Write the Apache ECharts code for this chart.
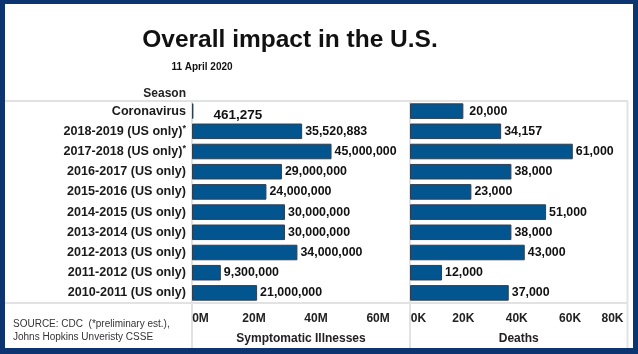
<!DOCTYPE html>
<html>
<head>
<meta charset="utf-8">
<script src="https://cdn.jsdelivr.net/npm/echarts@6/dist/echarts.min.js"></script>
<style>
  html, body { margin: 0; padding: 0; background: #fff; }
  #chart { width: 638px; height: 354px; }
</style>
</head>
<body>
<div id="chart"></div>
<script>
// data
const seasons = ['Coronavirus', '2018-2019 (US only)*', '2017-2018 (US only)*', '2016-2017 (US only)',
  '2015-2016 (US only)', '2014-2015 (US only)', '2013-2014 (US only)', '2012-2013 (US only)',
  '2011-2012 (US only)', '2010-2011 (US only)']
const illnesses = [461275, 35520883, 45000000, 29000000, 24000000, 30000000, 30000000, 34000000, 9300000, 21000000]
const deaths = [20000, 34157, 61000, 38000, 23000, 51000, 38000, 43000, 12000, 37000]
const illnessTicks = ['0M', '20M', '40M', '60M']
const deathTicks = ['0K', '20K', '40K', '60K', '80K']

const FONT = 'Liberation Sans, Arial, sans-serif'
const BLUE = '#03558f'
const FRAME = '#0c3470'
const RULE = '#e2e2e2'

const myChart = echarts.init(document.getElementById('chart'))

const fmt = v => v.toLocaleString('en-US')

const barLabel = {
  show: true,
  position: 'right',
  distance: 3,
  color: '#111',
  fontFamily: FONT,
  fontWeight: 'bold',
  fontSize: 12.4,
  formatter: p => fmt(p.value)
}

// first row (coronavirus) labels sit a bit apart from the bar
const illnessData = illnesses.map((v, i) => i === 0
  ? { value: v, label: { distance: 20, offset: [0, 4], fontSize: 13.5 } } : v)
const deathData = deaths.map((v, i) => i === 0
  ? { value: v, label: { distance: 6 } } : v)

const tickLabel = (ticks, step) => ({
  color: '#222',
  fontFamily: FONT,
  fontWeight: 'bold',
  fontSize: 12,
  margin: 10,
  showMaxLabel: false,
  formatter: v => {
    const k = Math.round(v / step)
    if (Math.abs(v - k * step) > 1 || k >= ticks.length) return ''
    if (k === 0) return '{first|' + ticks[k] + '}'
    if (k === ticks.length - 1 && ticks === deathTicks) return '{last|' + ticks[k] + '}'
    return ticks[k]
  },
  rich: {
    first: { fontFamily: FONT, fontWeight: 'bold', fontSize: 12, color: '#222', padding: [0, 0, 0, 17] },
    last: { fontFamily: FONT, fontWeight: 'bold', fontSize: 12, color: '#222', padding: [0, 22, 0, 0] }
  }
})

const axisName = {
  color: '#222',
  fontFamily: FONT,
  fontWeight: 'bold',
  fontSize: 12
}

const line = (x1, y1, x2, y2) => ({
  type: 'line', silent: true,
  shape: { x1, y1, x2, y2 },
  style: { stroke: RULE, lineWidth: 2 }
})
const text = (x, y, str, font, align, color) => ({
  type: 'text', silent: true,
  style: { x, y, text: str, font, textAlign: align, textVerticalAlign: 'middle', fill: color || '#111' }
})
const rect = (x, y, width, height) => ({
  type: 'rect', silent: true, z: 100,
  shape: { x, y, width, height },
  style: { fill: FRAME }
})

const option = {
  backgroundColor: '#fff',
  animation: false,
  grid: [
    { left: 192, top: 101, width: 218, height: 202 },
    { left: 410, top: 101, width: 217.5, height: 202 }
  ],
  xAxis: [
    {
      gridIndex: 0, type: 'value', min: 0, max: 70.3e6, interval: 20e6,
      axisLine: { show: false }, axisTick: { show: false }, splitLine: { show: false },
      axisLabel: tickLabel(illnessTicks, 20e6),
      name: 'Symptomatic Illnesses', nameLocation: 'middle', nameGap: 30, nameTextStyle: axisName
    },
    {
      gridIndex: 1, type: 'value', min: 0, max: 81500, interval: 20000,
      axisLine: { show: false }, axisTick: { show: false }, splitLine: { show: false },
      axisLabel: tickLabel(deathTicks, 20000),
      name: 'Deaths', nameLocation: 'middle', nameGap: 30, nameTextStyle: axisName
    }
  ],
  yAxis: [
    {
      gridIndex: 0, type: 'category', data: seasons, inverse: true,
      axisLine: { show: false }, axisTick: { show: false },
      axisLabel: {
        margin: 6,
        color: '#1a1a1a',
        fontFamily: FONT,
        fontWeight: 'bold',
        fontSize: 12.6,
        formatter: v => v.endsWith('*') ? v.slice(0, -1) + '{sup|*}' : v,
        rich: {
          sup: { fontFamily: FONT, fontSize: 9, color: '#222', verticalAlign: 'top', padding: [0, 0, 6, 0] }
        }
      }
    },
    {
      gridIndex: 1, type: 'category', data: seasons, inverse: true,
      axisLine: { show: false }, axisTick: { show: false }, axisLabel: { show: false }
    }
  ],
  series: [
    {
      type: 'bar', xAxisIndex: 0, yAxisIndex: 0, data: illnessData,
      barCategoryGap: '23%',
      itemStyle: { color: BLUE, borderColor: '#2f3f52', borderWidth: 1 },
      label: barLabel
    },
    {
      type: 'bar', xAxisIndex: 1, yAxisIndex: 1, data: deathData,
      barCategoryGap: '23%',
      itemStyle: { color: BLUE, borderColor: '#2f3f52', borderWidth: 1 },
      label: barLabel
    }
  ],
  graphic: [
    line(5, 101, 628, 101),
    line(5, 303, 628, 303),
    line(192, 101, 192, 348),
    line(410, 101, 410, 348),
    line(627.5, 101, 627.5, 348),
    text(290, 40, 'Overall impact in the U.S.', 'bold 24.5px ' + FONT, 'center'),
    text(202, 67, '11 April 2020', 'bold 10px ' + FONT, 'center'),
    text(186, 94, 'Season', 'bold 12px ' + FONT, 'right', '#222'),
    text(13, 324, 'SOURCE: CDC  (*preliminary est.),', '10px ' + FONT, 'left', '#333'),
    text(13, 337, 'Johns Hopkins Unveristy CSSE', '10px ' + FONT, 'left', '#333'),
    rect(0, 0, 638, 4),
    rect(0, 0, 5, 354),
    rect(633, 0, 5, 354),
    rect(0, 348, 638, 6)
  ]
}

myChart.setOption(option)
</script>
</body>
</html>
